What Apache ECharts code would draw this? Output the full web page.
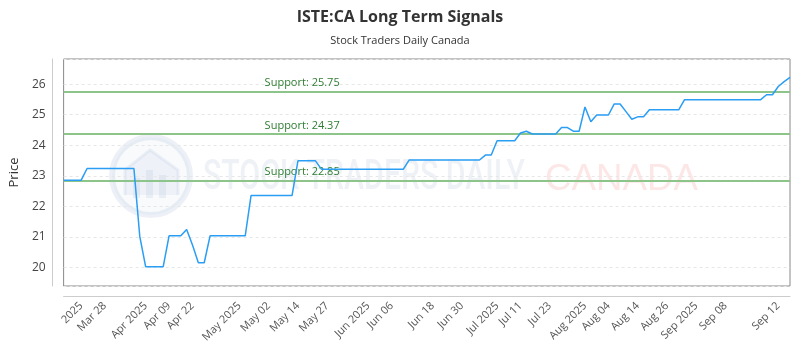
<!DOCTYPE html>
<html>
<head>
<meta charset="utf-8">
<script src="https://cdn.jsdelivr.net/npm/echarts@6/dist/echarts.min.js"></script>
<style>html,body{margin:0;padding:0;background:#fff}#c{width:800px;height:350px}</style>
</head>
<body>
<div id="c"></div>
<script>
// Price values, one per point (category index order)
const prices = [
  22.86, 22.86, 22.86, 22.86,
  23.24, 23.24, 23.24, 23.24, 23.24, 23.24, 23.24, 23.24, 23.24,
  21.02,
  20.03, 20.03, 20.03, 20.03,
  21.04, 21.04, 21.04,
  21.25, 20.74, 20.16, 20.16,
  21.04, 21.04, 21.04, 21.04, 21.04, 21.04, 21.04,
  22.36, 22.36, 22.36, 22.36, 22.36, 22.36, 22.36, 22.36,
  23.49, 23.49, 23.49, 23.49,
  23.22, 23.22, 23.22, 23.22, 23.22, 23.22, 23.22, 23.22, 23.22, 23.22, 23.22, 23.22, 23.22, 23.22, 23.22,
  23.52, 23.52, 23.52, 23.52, 23.52, 23.52, 23.52, 23.52, 23.52, 23.52, 23.52, 23.52, 23.52,
  23.68, 23.68,
  24.15, 24.15, 24.15, 24.15,
  24.40, 24.46,
  24.37, 24.37, 24.37, 24.37, 24.37,
  24.58, 24.58, 24.46, 24.46,
  25.25, 24.77,
  24.99, 24.99, 24.99,
  25.35, 25.35, 25.10, 24.85, 24.93, 24.93,
  25.16, 25.16, 25.16, 25.16, 25.16, 25.16,
  25.49, 25.49, 25.49, 25.49, 25.49, 25.49, 25.49, 25.49, 25.49, 25.49, 25.49, 25.49, 25.49, 25.49,
  25.65, 25.65, 25.92, 26.08, 26.22
];
const supportLevels = [25.75, 24.37, 22.85];
// Tick labels and the category index each one sits on
const tickText = ['2025','Mar 28','Apr 2025','Apr 09','Apr 22','May 2025','May 02','May 14','May 27','Jun 2025','Jun 06','Jun 18','Jun 30','Jul 2025','Jul 11','Jul 23','Aug 2025','Aug 04','Aug 14','Aug 26','Sep 2025','Sep 08','Sep 12'];
const tickIndex = [3, 7, 14, 18, 22, 30, 35, 40, 45, 52, 56, 63, 68, 74, 78, 83, 89, 93, 98, 103, 108, 113, 122];
const categories = prices.map((_, i) => String(i));

// measure watermark text for horizontal fit
function measure(text, font) {
  const c = document.createElement('canvas').getContext('2d');
  c.font = font;
  return c.measureText(text).width;
}
const wmFont1 = '500 42px Roboto';
const wmScale1 = 322 / measure('STOCK TRADERS DAILY', wmFont1);
const wmFont2 = '36px "Liberation Sans"';
const wmScale2 = 153 / measure('CANADA', wmFont2);

const chart = echarts.init(document.getElementById('c'), null, {renderer: 'canvas'});
chart.setOption({
  animation: false,
  backgroundColor: '#fff',
  title: {
    text: 'ISTE:CA Long Term Signals',
    subtext: 'Stock Traders Daily Canada',
    left: 'center',
    top: 4,
    itemGap: 10,
    textStyle: {fontFamily: 'Open Sans', fontSize: 16, fontWeight: 'bold', color: '#333'},
    subtextStyle: {fontFamily: 'Open Sans', fontSize: 11, color: '#333'}
  },
  graphic: [
    {type: 'circle', shape: {cx: 151, cy: 176, r: 39}, style: {fill: 'rgba(60,100,170,0.035)', stroke: 'rgba(60,100,170,0.09)', lineWidth: 6}, z: 0, silent: true},
    {type: 'polyline', shape: {points: [[125,195],[125,170],[150,150],[178,170],[178,195]]}, style: {fill: 'rgba(60,100,170,0.05)', stroke: 'rgba(60,100,170,0.07)', lineWidth: 3}, z: 0, silent: true},
    {type: 'rect', shape: {x: 133, y: 178, width: 7, height: 20}, style: {fill: 'rgba(60,100,170,0.08)'}, z: 0, silent: true},
    {type: 'rect', shape: {x: 146, y: 170, width: 7, height: 28}, style: {fill: 'rgba(60,100,170,0.08)'}, z: 0, silent: true},
    {type: 'rect', shape: {x: 159, y: 175, width: 7, height: 23}, style: {fill: 'rgba(60,100,170,0.08)'}, z: 0, silent: true},
    {type: 'text', x: 203, y: 178, scaleX: wmScale1, z: 0, silent: true,
      style: {text: 'STOCK TRADERS DAILY', font: wmFont1, fill: 'rgba(60,90,150,0.085)', textVerticalAlign: 'middle', textAlign: 'left'}},
    {type: 'text', x: 545, y: 180, scaleX: wmScale2, z: 0, silent: true,
      style: {text: 'CANADA', font: wmFont2, fill: 'rgba(240,60,60,0.13)', textVerticalAlign: 'middle', textAlign: 'left'}}
  ],
  grid: {
    left: 61, right: 10, top: 59, bottom: 64,
    show: true, borderColor: '#888', borderWidth: 1, backgroundColor: 'transparent'
  },
  xAxis: {
    type: 'category',
    data: categories,
    boundaryGap: false,
    offset: 10,
    axisLine: {show: true, lineStyle: {color: '#ccc', width: 1}},
    axisTick: {show: false},
    splitLine: {show: false},
    axisLabel: {
      rotate: 45,
      margin: 8,
      fontFamily: 'Open Sans',
      fontSize: 11,
      color: '#555',
      interval: (idx) => tickIndex.indexOf(idx) >= 0,
      formatter: (val) => {
        const k = tickIndex.indexOf(Number(val));
        return k >= 0 ? tickText[k] : '';
      }
    }
  },
  yAxis: {
    type: 'value',
    min: 19.4,
    max: 26.82,
    splitNumber: 7,
    offset: 11,
    name: 'Price',
    nameLocation: 'middle',
    nameGap: 29,
    nameTextStyle: {fontFamily: 'Open Sans', fontSize: 13, color: '#333'},
    axisLine: {show: true, lineStyle: {color: '#ccc', width: 1}},
    axisTick: {show: false},
    axisLabel: {fontFamily: 'Open Sans', fontSize: 12, color: '#444', margin: 7, showMinLabel: false, showMaxLabel: false,
      formatter: (v) => (Math.abs(v - Math.round(v)) < 1e-6 ? String(Math.round(v)) : '')},
    splitLine: {show: true, lineStyle: {color: '#e6e6e6', type: [3, 3], width: 1}}
  },
  series: [
    {
      type: 'line',
      name: 'support',
      data: [],
      z: 1,
      markLine: {
        silent: true,
        symbol: 'none',
        z: 1,
        lineStyle: {color: '#8cc48a', width: 2, type: 'solid'},
        label: {
          position: 'insideStartTop',
          distance: 3,
          padding: [0, 0, 0, 198],
          fontFamily: 'Open Sans',
          fontSize: 11,
          color: '#2e7d32',
          formatter: (p) => 'Support: ' + p.value.toFixed(2)
        },
        data: supportLevels.map(v => ({yAxis: v}))
      }
    },
    {
      type: 'line',
      name: 'price',
      data: prices,
      showSymbol: false,
      symbol: 'none',
      lineStyle: {color: '#2a9df4', width: 1.5},
      itemStyle: {color: '#2a9df4'},
      z: 5
    }
  ]
});
</script>
</body>
</html>
